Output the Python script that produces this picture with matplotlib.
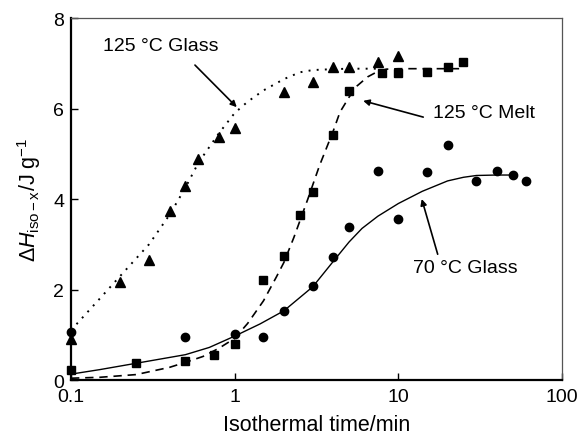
import matplotlib
matplotlib.use('Agg')
import matplotlib.pyplot as plt

plt.rcParams['font.family'] = ['Liberation Sans', 'DejaVu Sans']
plt.rcParams['mathtext.fontset'] = 'custom'
plt.rcParams['mathtext.rm'] = 'Liberation Sans'
plt.rcParams['mathtext.it'] = 'Liberation Sans:italic'

# region ###### DATA ######
# 125 °C Glass (triangles)
glass125_t = [0.1, 0.2, 0.3, 0.4, 0.5, 0.6, 0.8, 1.0, 2.0, 3.0, 4.0, 5.0, 7.5, 10]
glass125_h = [0.91, 2.16, 2.65, 3.73, 4.29, 4.88, 5.38, 5.57, 6.36, 6.58, 6.91, 6.91, 7.02, 7.15]
# 125 °C Melt (squares)
melt125_t = [0.1, 0.25, 0.5, 0.75, 1.0, 1.5, 2.0, 2.5, 3.0, 4.0, 5.0, 8.0, 10, 15, 20, 25]
melt125_h = [0.22, 0.37, 0.43, 0.55, 0.79, 2.21, 2.73, 3.65, 4.15, 5.42, 6.39, 6.78, 6.78, 6.80, 6.91, 7.02]
# 70 °C Glass (circles)
glass70_t = [0.1, 0.5, 1.0, 1.5, 2.0, 3.0, 4.0, 5.0, 7.5, 10, 15, 20, 30, 40, 50, 60]
glass70_h = [1.06, 0.94, 1.02, 0.94, 1.53, 2.07, 2.71, 3.39, 4.61, 3.56, 4.60, 5.20, 4.39, 4.61, 4.52, 4.40]

# fitted curves
fit_glass125_t = [0.1, 0.15, 0.2, 0.3, 0.4, 0.5, 0.6, 0.8, 1.0, 1.2, 1.5, 2.0, 2.5, 3.0, 4.0, 5.0, 7.5]
fit_glass125_h = [1.10, 1.80, 2.30, 3.00, 3.65, 4.25, 4.80, 5.45, 5.90, 6.15, 6.40, 6.65, 6.80, 6.85, 6.87, 6.88, 6.88]
fit_melt125_t = [0.1, 0.15, 0.25, 0.4, 0.5, 0.64, 0.8, 1.0, 1.2, 1.5, 1.8, 2.0, 2.3, 2.8, 3.3, 4.0, 4.4,
                 5.0, 5.6, 6.5, 7.5, 8.5, 10, 15, 20, 25]
fit_melt125_h = [0.04, 0.06, 0.12, 0.28, 0.39, 0.52, 0.70, 0.92, 1.25, 1.75, 2.28, 2.60, 3.15, 4.00, 4.74,
                 5.50, 5.92, 6.25, 6.50, 6.70, 6.82, 6.87, 6.88, 6.88, 6.88, 6.88]
fit_glass70_t = [0.1, 0.15, 0.25, 0.5, 0.7, 1.0, 1.43, 2.0, 3.0, 4.0, 5.0, 6.0, 7.5, 10, 14, 20, 25, 30, 40, 48]
fit_glass70_h = [0.13, 0.23, 0.37, 0.56, 0.72, 0.97, 1.24, 1.53, 2.06, 2.62, 3.05, 3.35, 3.62, 3.90, 4.17, 4.40,
                 4.48, 4.52, 4.53, 4.53]

x_ticks = [0.1, 1, 10, 100]
x_tick_labels = ['0.1', '1', '10', '100']
y_ticks = [0, 2, 4, 6, 8]
# endregion

fig = plt.figure(figsize=(5.82, 4.35), dpi=100)
ax = fig.add_axes([0.122, 0.1241, 0.8436, 0.8322])

# region ###### CURVES ######
ax.plot(fit_glass125_t, fit_glass125_h, color='black', lw=1.4, linestyle=(0, (1, 3.2)))
ax.plot(fit_melt125_t, fit_melt125_h, color='black', lw=1.2, linestyle=(0, (5, 3.5)))
ax.plot(fit_glass70_t, fit_glass70_h, color='black', lw=1.0, linestyle='-')
# endregion

# region ###### POINTS ######
ax.plot(glass125_t, glass125_h, '^', color='black', markersize=7.5, clip_on=False, zorder=5)
ax.plot(melt125_t, melt125_h, 's', color='black', markersize=5.5, clip_on=False, zorder=5)
ax.plot(glass70_t, glass70_h, 'o', color='black', markersize=6, clip_on=False, zorder=5)
# endregion

# region ###### ANNOTATIONS ######
arrow = dict(arrowstyle='-|>', color='black', lw=1.2, mutation_scale=9, shrinkA=0, shrinkB=0)
ax.text(0.157, 7.39, '125 °C Glass', fontsize=14, ha='left', va='center')
ax.annotate('', xy=(1.03, 6.03), xytext=(0.572, 6.96), arrowprops=arrow)
ax.text(16.3, 5.92, '125 °C Melt', fontsize=14, ha='left', va='center')
ax.annotate('', xy=(6.1, 6.17), xytext=(14.2, 5.81), arrowprops=arrow)
ax.text(12.3, 2.49, '70 °C Glass', fontsize=14, ha='left', va='center')
ax.annotate('', xy=(13.9, 4.0), xytext=(17.4, 2.78), arrowprops=arrow)
# endregion

# region ###### AXES ######
ax.set_xscale('log')
ax.set_xlim(0.1, 100)
ax.set_ylim(0, 8)
ax.set_xticks(x_ticks)
ax.set_xticklabels(x_tick_labels)
ax.set_yticks(y_ticks)
ax.minorticks_off()
ax.tick_params(direction='in', length=5, width=1, labelsize=14, pad=5, colors='black')
ax.tick_params(axis='x', pad=6)

for side in ['left', 'bottom']:
	ax.spines[side].set_linewidth(1.6)
	ax.spines[side].set_color('black')
for side in ['top', 'right']:
	ax.spines[side].set_linewidth(0.9)
	ax.spines[side].set_color('#555555')

ax.set_xlabel('Isothermal time/min', fontsize=15.5, labelpad=6)
ax.set_ylabel(r'$\Delta\mathit{H}_{\mathrm{iso-x}}\mathrm{/J\ g^{-1}}$', fontsize=15.5, labelpad=7)
# endregion

plt.savefig('out.png', dpi=100)
